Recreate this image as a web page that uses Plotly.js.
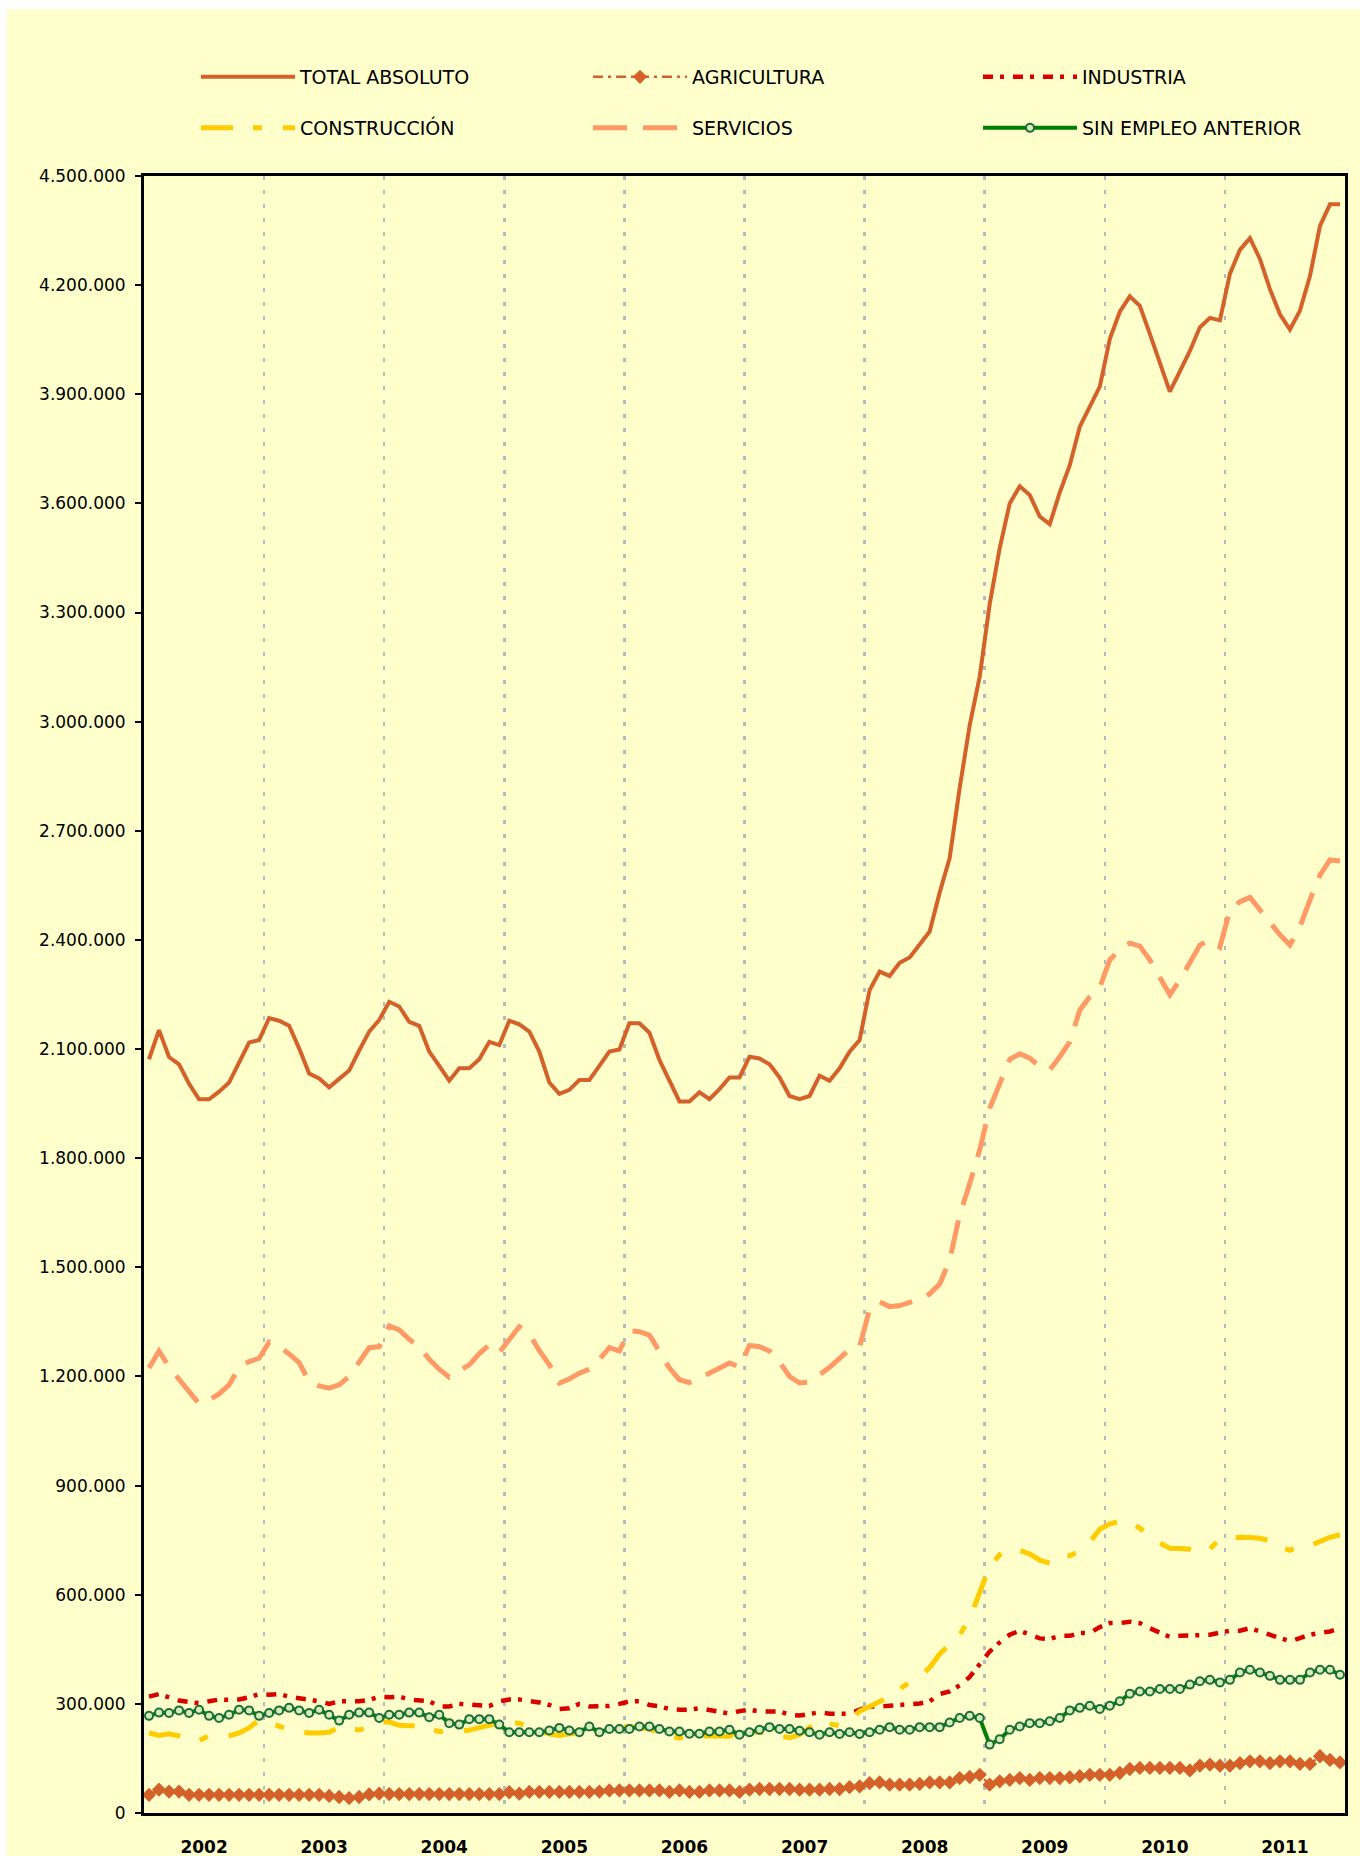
<!DOCTYPE html>
<html>
<head>
<meta charset="utf-8">
<script src="https://cdn.plot.ly/plotly-3.0.1.min.js"></script>
<style>html,body{margin:0;padding:0;background:#fff;}#chart{width:1360px;height:1856px;}</style>
</head>
<body>
<div id="chart"></div>
<script>
// Monthly registered unemployment, Jan 2002 - Dec 2011
const years = ['2002','2003','2004','2005','2006','2007','2008','2009','2010','2011'];

const totalAbsoluto = [
2072000,2152000,2078000,2058000,2005000,1962000,1962000,1983000,2008000,2061000,2118000,2125000,
2185000,2178000,2164000,2102000,2033000,2019000,1995000,2018000,2041000,2096000,2148000,2180000,
2230000,2217000,2175000,2164000,2093000,2054000,2013000,2047000,2047000,2072000,2120000,2111000,
2178000,2168000,2148000,2093000,2008000,1977000,1988000,2015000,2015000,2054000,2093000,2099000,
2171000,2171000,2145000,2070000,2010000,1956000,1956000,1981000,1962000,1990000,2022000,2022000,
2079000,2074000,2058000,2022000,1971000,1962000,1971000,2027000,2013000,2047000,2093000,2125000,
2262000,2313000,2301000,2337000,2352000,2389000,2423000,2530000,2625000,2818000,2990000,3124000,
3323000,3477000,3600000,3647000,3623000,3564000,3543000,3630000,3705000,3811000,3868000,3921000,
4052000,4127000,4169000,4143000,4066000,3983000,3907000,3963000,4019000,4084000,4110000,4103000,
4231000,4297000,4329000,4272000,4189000,4120000,4078000,4130000,4225000,4363000,4422000,4422000];

const agricultura = [
50000,64000,59000,59000,50000,50000,50000,50000,50000,50000,50000,50000,
50000,50000,50000,50000,50000,50000,47000,44000,41000,44000,51000,53000,
52000,52000,52000,52000,52000,52000,52000,52000,52000,52000,52000,52000,
57000,53000,58000,58000,58000,58000,58000,58000,58000,59000,62000,62000,
62000,62000,62000,62000,58000,62000,58000,58000,62000,62000,62000,58000,
64000,66000,66000,66000,66000,64000,64000,64000,66000,66000,71000,73000,
82000,84000,78000,78000,78000,80000,84000,84000,84000,96000,99000,105000,
78000,87000,91000,96000,91000,96000,96000,96000,98000,101000,105000,105000,
105000,110000,121000,124000,124000,124000,124000,124000,117000,130000,133000,130000,
130000,137000,142000,142000,137000,142000,142000,135000,135000,156000,146000,139000];

const industria = [
320000,327000,318000,309000,305000,302000,307000,312000,311000,312000,318000,327000,
325000,327000,320000,316000,311000,307000,300000,307000,307000,307000,311000,320000,
318000,320000,312000,311000,307000,293000,293000,300000,297000,294000,294000,307000,
312000,312000,309000,304000,297000,286000,288000,300000,293000,294000,294000,300000,
307000,307000,297000,293000,286000,284000,284000,288000,282000,276000,273000,280000,
284000,279000,279000,279000,270000,268000,272000,277000,273000,273000,273000,284000,
293000,293000,295000,300000,300000,301000,307000,327000,334000,351000,374000,407000,
444000,469000,490000,501000,492000,480000,478000,487000,487000,495000,495000,511000,
522000,522000,526000,522000,508000,495000,484000,487000,487000,487000,490000,496000,
501000,501000,508000,499000,490000,484000,472000,481000,490000,495000,499000,508000];

const construccion = [
220000,213000,218000,212000,206000,199000,212000,210000,212000,220000,234000,256000,
248000,238000,229000,224000,220000,220000,222000,236000,232000,228000,237000,250000,
250000,241000,240000,240000,232000,224000,224000,224000,228000,235000,243000,248000,
248000,247000,235000,225000,217000,213000,218000,218000,217000,220000,228000,235000,
238000,234000,231000,220000,210000,206000,213000,212000,211000,211000,211000,228000,
225000,221000,222000,212000,207000,215000,235000,254000,245000,240000,255000,280000,
293000,307000,320000,340000,360000,373000,400000,437000,462000,490000,535000,610000,
678000,710000,728000,722000,712000,695000,687000,707000,707000,720000,745000,780000,
795000,802000,799000,783000,760000,742000,728000,727000,725000,719000,725000,755000,
757000,758000,757000,755000,748000,730000,722000,735000,735000,748000,758000,765000];

const servicios = [
1223000,1270000,1226000,1191000,1159000,1125000,1135000,1152000,1177000,1225000,1241000,1250000,
1294000,1282000,1262000,1238000,1186000,1174000,1168000,1177000,1200000,1237000,1279000,1282000,
1339000,1328000,1302000,1282000,1247000,1220000,1198000,1216000,1232000,1263000,1287000,1266000,
1301000,1337000,1317000,1271000,1232000,1182000,1193000,1209000,1220000,1247000,1279000,1270000,
1326000,1323000,1314000,1266000,1223000,1191000,1183000,1195000,1209000,1220000,1237000,1226000,
1285000,1282000,1270000,1240000,1200000,1182000,1185000,1205000,1225000,1250000,1275000,1282000,
1385000,1405000,1392000,1395000,1402000,1412000,1427000,1454000,1520000,1644000,1730000,1823000,
1937000,2006000,2072000,2087000,2075000,2052000,2043000,2079000,2120000,2207000,2244000,2270000,
2345000,2374000,2391000,2383000,2345000,2297000,2249000,2290000,2336000,2386000,2400000,2380000,
2482000,2505000,2517000,2482000,2446000,2414000,2386000,2436000,2510000,2578000,2620000,2617000];

const sinEmpleoAnterior = [
267000,276000,275000,282000,275000,284000,267000,261000,270000,284000,282000,267000,
275000,282000,289000,282000,275000,284000,270000,254000,270000,276000,276000,261000,
270000,270000,276000,276000,263000,270000,247000,243000,258000,258000,258000,243000,
222000,222000,222000,222000,227000,234000,227000,222000,238000,222000,231000,231000,
231000,238000,238000,231000,224000,224000,218000,218000,224000,224000,229000,215000,
222000,229000,236000,231000,231000,226000,222000,215000,222000,217000,222000,217000,
222000,229000,236000,229000,229000,236000,236000,236000,249000,261000,267000,261000,
188000,203000,229000,238000,247000,247000,252000,261000,282000,289000,295000,286000,
295000,307000,328000,334000,334000,341000,341000,341000,353000,362000,366000,359000,
366000,386000,394000,386000,377000,366000,366000,366000,386000,394000,394000,380000];

const monthIndex = totalAbsoluto.map((_, i) => i);
const yearCenters = years.map((_, k) => 12 * k + 5.5);
const yearBounds = years.slice(1).map((_, k) => 12 * (k + 1) - 0.5);

const COL_TOTAL = '#D4602A';
const traces = [
  {name:'TOTAL ABSOLUTO', x:monthIndex, y:totalAbsoluto, mode:'lines',
   line:{color:COL_TOTAL, width:4}, legend:'legend'},
  {name:'AGRICULTURA', x:monthIndex, y:agricultura, mode:'lines+markers',
   line:{color:COL_TOTAL, width:2.5, dash:'10px,5px,3px,5px'},
   marker:{symbol:'diamond', size:11, color:COL_TOTAL}, legend:'legend2'},
  {name:'INDUSTRIA', x:monthIndex, y:industria, mode:'lines',
   line:{color:'#D90000', width:4.5, dash:'10px,7px,4px,9px'}, legend:'legend3'},
  {name:'CONSTRUCCIÓN', x:monthIndex, y:construccion, mode:'lines',
   line:{color:'#FFCC00', width:5, dash:'32px,20px,9px,21px'}, legend:'legend4'},
  {name:'SERVICIOS', x:monthIndex, y:servicios, mode:'lines',
   line:{color:'#FF9966', width:5, dash:'34px,16px'}, legend:'legend5'},
  {name:'SIN EMPLEO ANTERIOR', x:monthIndex, y:sinEmpleoAnterior, mode:'lines+markers',
   line:{color:'#008000', width:4},
   marker:{symbol:'circle', size:8, color:'#D8ECB8', line:{color:'#1E6E3A', width:2}}, legend:'legend6'}
];

// legend placement (pixels of the page)
const legendCols = [196, 588, 978];
const legendRows = [77, 128];
function legendAt(col, row) {
  return {
    orientation:'h', xanchor:'left', yanchor:'middle',
    x:(legendCols[col] - 144) / 1201, y:(1813 - legendRows[row]) / 1637,
    itemwidth:94, font:{family:'DejaVu Sans', size:19, color:'#000'},
    bgcolor:'rgba(0,0,0,0)', borderwidth:0
  };
}

const layout = {
  width:1360, height:1856,
  margin:{l:144, r:15, t:176, b:43, pad:0},
  paper_bgcolor:'#FFFFCC', plot_bgcolor:'#FFFFCC',
  separators:',.',
  font:{family:'DejaVu Sans', color:'#000'},
  showlegend:true,
  xaxis:{
    range:[-0.5, 119.5], tickmode:'array', tickvals:yearCenters, ticktext:years,
    ticks:'', showgrid:false, zeroline:false, showline:true, mirror:true,
    linecolor:'#000', linewidth:3,
    tickfont:{family:'DejaVu Sans', size:17, weight:'bold', color:'#000'},
    ticklabelstandoff:17,
    minor:{tickmode:'array', tickvals:yearBounds, showgrid:true, gridcolor:'#B8B8C2',
           gridwidth:2.5, griddash:'4px,10px', ticks:''}
  },
  yaxis:{
    range:[0, 4500000], tickmode:'linear', tick0:0, dtick:300000, tickformat:',.0f',
    ticks:'outside', ticklen:6, tickwidth:2, tickcolor:'#000',
    showgrid:false, zeroline:false, showline:true, mirror:true, linecolor:'#000', linewidth:3,
    tickfont:{family:'DejaVu Sans', size:17, color:'#000'}, ticklabelstandoff:6
  },
  legend:legendAt(0, 0),
  legend2:legendAt(1, 0),
  legend3:legendAt(2, 0),
  legend4:legendAt(0, 1),
  legend5:legendAt(1, 1),
  legend6:legendAt(2, 1),
  shapes:[
    {type:'rect', xref:'paper', yref:'paper', x0:-0.2, x1:1.2, y0:(1813 - 9) / 1637, y1:1.2,
     fillcolor:'#FFFFFF', line:{width:0}, layer:'below'},
    {type:'rect', xref:'paper', yref:'paper', x0:-0.2, x1:(7 - 144) / 1201, y0:-0.1, y1:1.2,
     fillcolor:'#FFFFFF', line:{width:0}, layer:'below'}
  ]
};

Plotly.newPlot('chart', traces, layout, {staticPlot:true, displayModeBar:false});
</script>
</body>
</html>
